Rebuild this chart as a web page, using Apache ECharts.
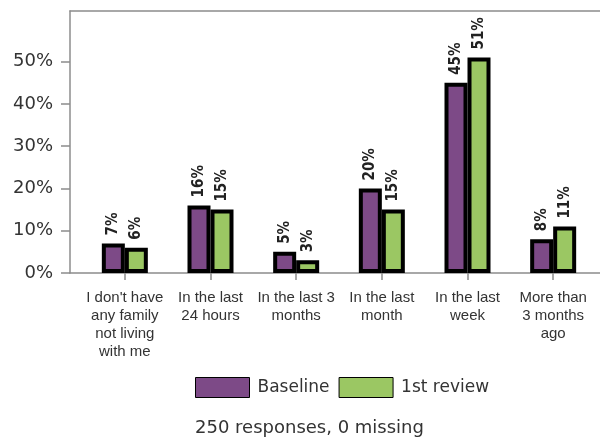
<!DOCTYPE html>
<html>
<head>
<meta charset="utf-8">
<script src="https://cdn.jsdelivr.net/npm/echarts@6/dist/echarts.min.js"></script>
<style>html,body{margin:0;padding:0;background:#fff}#c{width:600px;height:441px}</style>
</head>
<body>
<div id="c"></div>
<script>
var categories = ["I don't have\nany family\nnot living\nwith me", "In the last\n24 hours", "In the last 3\nmonths", "In the last\nmonth", "In the last\nweek", "More than\n3 months\nago"];
var baseline = [7, 16, 5, 20, 45, 8];
var review1 = [6, 15, 3, 15, 51, 11];
var yTicks = [0, 10, 20, 30, 40, 50];
var seriesNames = ['Baseline', '1st review'];
var footer = '250 responses, 0 missing';

var chart = echarts.init(document.getElementById('c'), null, {renderer: 'canvas'});
var txt = '#333';
var axisCol = '#8c8c8c';
var labelCfg = {
  show: true, position: 'top', rotate: 90, align: 'left', verticalAlign: 'middle',
  distance: 8, formatter: '{c}%', fontSize: 15, fontWeight: 'bold', color: '#222', fontFamily: 'DejaVu Sans Condensed'
};
chart.setOption({
  animation: false,
  grid: [
    {left: 70, right: 0, top: 11, bottom: 168},
    {left: 82, right: 4, top: 11, bottom: 168}
  ],
  xAxis: [
    {gridIndex: 0, type: 'value', min: 0, max: 1, position: 'bottom',
     axisLine: {show: true, lineStyle: {color: axisCol, width: 1.5}},
     axisTick: {show: false}, axisLabel: {show: false}, splitLine: {show: false}},
    {gridIndex: 0, type: 'value', min: 0, max: 1, position: 'top',
     axisLine: {show: true, lineStyle: {color: axisCol, width: 1.5}},
     axisTick: {show: false}, axisLabel: {show: false}, splitLine: {show: false}},
    {gridIndex: 1, type: 'category', data: categories, position: 'bottom',
     axisLine: {show: false},
     axisTick: {show: true, alignWithLabel: true, length: 7, lineStyle: {color: axisCol, width: 1.5}},
     axisLabel: {margin: 16, fontSize: 15, lineHeight: 18, color: txt, fontFamily: 'Liberation Sans', interval: 0},
     splitLine: {show: false}}
  ],
  yAxis: [
    {gridIndex: 0, type: 'value', min: 0, max: 62,
     axisLine: {show: true, lineStyle: {color: axisCol, width: 1.5}},
     axisTick: {show: true, inside: false, length: 9, customValues: yTicks, lineStyle: {color: axisCol, width: 1.5}},
     axisLabel: {customValues: yTicks, formatter: '{value}%', fontSize: 18, color: txt, fontFamily: 'DejaVu Sans', margin: 17},
     splitLine: {show: false}},
    {gridIndex: 1, type: 'value', min: 0, max: 62, show: false}
  ],
  legend: {
    data: seriesNames, left: 195, top: 377, padding: 0, icon: 'rect',
    itemWidth: 54, itemHeight: 20, itemGap: 9,
    textStyle: {fontSize: 17, color: txt, fontFamily: 'DejaVu Sans', padding: [0, 0, 0, 3]},
    itemStyle: {borderWidth: 1, borderColor: '#000'}
  },
  title: {
    text: footer, left: 195, top: 419, padding: 0,
    textStyle: {fontSize: 18, fontWeight: 'normal', color: txt, fontFamily: 'DejaVu Sans'}
  },
  series: [
    {name: seriesNames[0], type: 'bar', xAxisIndex: 2, yAxisIndex: 1, data: baseline,
     barWidth: 23, barGap: '0%',
     itemStyle: {color: '#7d4a87', borderColor: '#000', borderWidth: 4}, label: labelCfg},
    {name: seriesNames[1], type: 'bar', xAxisIndex: 2, yAxisIndex: 1, data: review1,
     barWidth: 23, barGap: '0%',
     itemStyle: {color: '#9bc763', borderColor: '#000', borderWidth: 4}, label: labelCfg}
  ]
});
</script>
</body>
</html>
